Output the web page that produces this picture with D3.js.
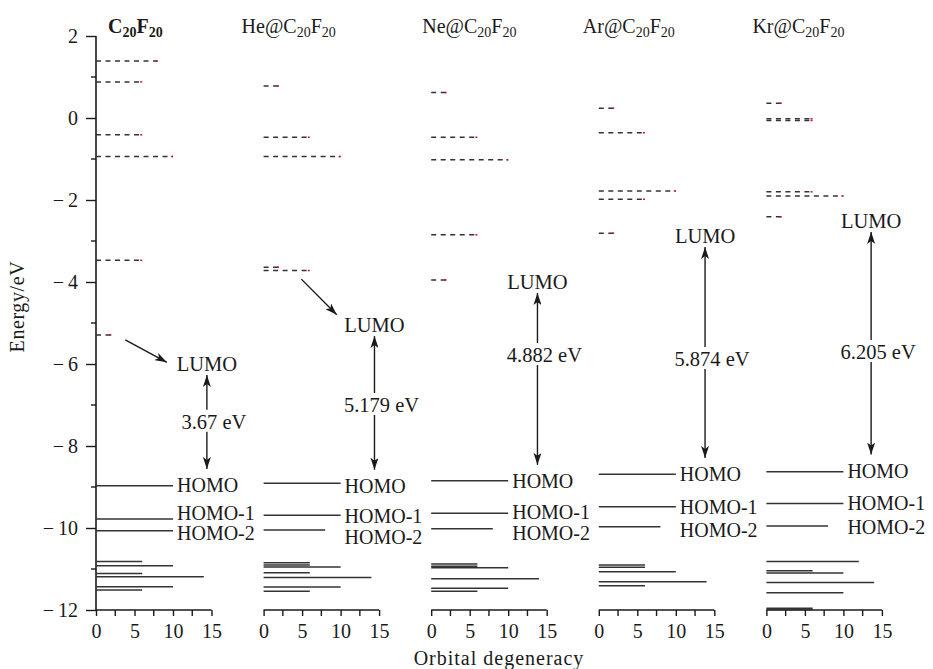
<!DOCTYPE html>
<html>
<head>
<meta charset="utf-8">
<script src="https://cdn.jsdelivr.net/npm/d3@7"></script>
<style>
    body { margin: 0; background: #fff; }
    text { font-family: "Liberation Serif", "DejaVu Serif", serif; fill: #1a1a1a; }
</style>
</head>
<body>
<svg id="chart"></svg>
<script>
// molecules (panel titles are prefix + C20F20)
const titlePrefix = ['', 'He@', 'Ne@', 'Ar@', 'Kr@']

// unoccupied levels (dashed): energy in eV and degeneracy
const virtualE = [
    [1.39, 0.88, -0.41, -0.94, -3.47, -5.29],
    [0.78, -0.47, -0.94, -3.64, -3.72],
    [0.62, -0.47, -1.02, -2.85, -3.95],
    [0.24, -0.36, -1.78, -1.98, -2.81],
    [0.36, -0.02, -0.06, -1.80, -1.90, -2.41]
]
const virtualDeg = [
    [8, 6, 6, 10, 6, 2],
    [2, 6, 10, 2, 6],
    [2, 6, 10, 6, 2],
    [2, 6, 10, 6, 2],
    [2, 6, 6, 6, 10, 2]
]

// occupied levels (solid)
const occE = [
    [-8.97, -9.78, -10.07, -10.82, -10.92, -11.11, -11.19, -11.43, -11.51],
    [-8.91, -9.69, -10.05, -10.85, -10.90, -10.95, -11.09, -11.21, -11.44, -11.54],
    [-8.85, -9.64, -10.02, -10.88, -10.93, -10.97, -11.24, -11.47, -11.54],
    [-8.69, -9.48, -9.97, -10.90, -10.96, -11.07, -11.31, -11.41],
    [-8.63, -9.40, -9.95, -10.82, -11.04, -11.10, -11.33, -11.58, -11.96, -11.99]
]
const occDeg = [
    [10, 10, 10, 6, 10, 6, 14, 10, 6],
    [10, 10, 8, 6, 6, 10, 6, 14, 10, 6],
    [10, 10, 8, 6, 6, 10, 14, 10, 6],
    [10, 10, 8, 6, 6, 10, 14, 6],
    [10, 10, 8, 12, 6, 10, 14, 10, 6, 6]
]

// annotations
const gapText = ['3.67 eV', '5.179 eV', '4.882 eV', '5.874 eV', '6.205 eV']
const gapX = [14.4, 14.4, 13.8, 13.8, 13.6]          // degeneracy units
const lumoLabelE = [-6.0, -5.05, -4.0, -2.88, -2.51]
const gapTextE = [-7.41, -7.0, -5.78, -5.88, -5.71]
const homoNames = ['HOMO', 'HOMO-1', 'HOMO-2']
const homoLabelE = [
    [-8.95, -9.63, -10.12],
    [-8.97, -9.70, -10.22],
    [-8.85, -9.62, -10.13],
    [-8.68, -9.48, -10.05],
    [-8.60, -9.40, -9.97]
]
const titleX = [1.56, -2.86, -1.17, -2.08, -1.82]
// arrows from the LUMO level to its label (only first two panels)
const lumoArrow = [
    {panel: 0, from: [3.8, -5.41], to: [9.2, -5.96]},
    {panel: 1, from: [4.9, -3.93], to: [9.5, -4.80]}
]

const yTicks = [2, 0, -2, -4, -6, -8, -10, -12]
const yMinor = [1, -1, -3, -5, -7, -9, -11]
const xTicks = [0, 5, 10, 15]
const xMinor = [2.5, 7.5, 12.5]

const W = 933, H = 669
const svg = d3.select('#chart').attr('width', W).attr('height', H)

const yScale = d3.scaleLinear().domain([-12, 2]).range([610, 36])
const panelX0 = d3.range(5).map(i => 96 + i * 167.6)
const xScale = d3.scaleLinear().domain([0, 15]).range([0, 115.5])

const defs = svg.append('defs')
defs.append('marker')
    .attr('id', 'head')
    .attr('viewBox', '0 0 12 8')
    .attr('refX', 12).attr('refY', 4)
    .attr('markerWidth', 12).attr('markerHeight', 8)
    .attr('markerUnits', 'userSpaceOnUse')
    .attr('orient', 'auto')
    .append('path')
    .attr('d', 'M0,0 L12,4 L0,8 L3,4 Z')
    .attr('fill', '#1a1a1a')

const minus = d => d < 0 ? '\u2212\u2009' + Math.abs(d) : d

// y axis (only on the first panel)
const yAxisG = svg.append('g')
    .attr('transform', `translate(${panelX0[0]},0)`)
    .call(d3.axisLeft(yScale).tickValues(yTicks).tickSize(10).tickPadding(8).tickFormat(minus))
yMinor.forEach(v => {
    yAxisG.append('line')
        .attr('x1', -5).attr('x2', 0)
        .attr('y1', yScale(v)).attr('y2', yScale(v))
        .attr('stroke', '#1a1a1a').attr('stroke-width', 1.4)
})
yAxisG.select('.domain').attr('stroke', '#1a1a1a').attr('stroke-width', 1.6)
    .attr('d', `M0,${yScale(-12)}V${yScale(2)}`)
yAxisG.selectAll('.tick line').attr('stroke', '#1a1a1a').attr('stroke-width', 1.4)
yAxisG.selectAll('.tick text')
    .style('font-family', '"Liberation Serif", serif')
    .style('font-size', '20px')
    .attr('fill', '#1a1a1a')

svg.append('text')
    .attr('transform', `translate(24,${yScale(-4.6)}) rotate(-90)`)
    .attr('text-anchor', 'middle')
    .style('font-size', '20px')
    .style('letter-spacing', '0.6px')
    .text('Energy/eV')

svg.append('text')
    .attr('x', 499).attr('y', 665)
    .attr('text-anchor', 'middle')
    .style('font-size', '20px')
    .style('letter-spacing', '1px')
    .text('Orbital degeneracy')

titlePrefix.forEach((pre, i) => {
    const g = svg.append('g').attr('transform', `translate(${panelX0[i]},0)`)

    // x axis
    const xa = g.append('g')
        .attr('transform', `translate(0,${yScale(-12)})`)
        .call(d3.axisBottom(xScale).tickValues(xTicks).tickSize(6).tickPadding(8))
    xa.select('.domain').attr('stroke', '#1a1a1a').attr('stroke-width', 1.5)
        .attr('d', `M0,0H${xScale(15)}`)
    xa.selectAll('.tick line').attr('stroke', '#1a1a1a').attr('stroke-width', 1.4)
    xa.selectAll('.tick text')
        .style('font-family', '"Liberation Serif", serif')
        .style('font-size', '20px')
        .attr('fill', '#1a1a1a')
    xMinor.forEach(v => {
        xa.append('line')
            .attr('x1', xScale(v)).attr('x2', xScale(v))
            .attr('y1', 0).attr('y2', 6)
            .attr('stroke', '#1a1a1a').attr('stroke-width', 1.4)
    })

    // title
    const t = g.append('text')
        .attr('x', xScale(titleX[i])).attr('y', 33)
        .style('font-size', '20px')
        .style('font-weight', i === 0 ? 'bold' : 'normal')
    t.append('tspan').text(pre + 'C')
    t.append('tspan').attr('dy', 4).style('font-size', '14px').text('20')
    t.append('tspan').attr('dy', -4).text('F')
    t.append('tspan').attr('dy', 4).style('font-size', '14px').text('20')

    // unoccupied levels
    const vData = virtualE[i].map((e, j) => ({e: e, d: virtualDeg[i][j]}))
    g.selectAll('.virt')
        .data(vData)
        .join('line')
            .attr('class', 'virt')
            .attr('x1', 0).attr('x2', d => xScale(d.d))
            .attr('y1', d => yScale(d.e)).attr('y2', d => yScale(d.e))
            .attr('stroke', '#333').attr('stroke-width', 1.5)
            .attr('stroke-dasharray', '5,4.5')
    g.selectAll('.virt-end')
        .data(vData)
        .join('line')
            .attr('class', 'virt-end')
            .attr('x1', d => xScale(d.d) - 2).attr('x2', d => xScale(d.d))
            .attr('y1', d => yScale(d.e)).attr('y2', d => yScale(d.e))
            .attr('stroke', '#d0102a').attr('stroke-width', 1.5)

    // occupied levels
    const oData = occE[i].map((e, j) => ({e: e, d: occDeg[i][j]}))
    g.selectAll('.occ')
        .data(oData)
        .join('line')
            .attr('class', 'occ')
            .attr('x1', 0).attr('x2', d => xScale(d.d))
            .attr('y1', d => yScale(d.e)).attr('y2', d => yScale(d.e))
            .attr('stroke', '#333').attr('stroke-width', 1.5)

    // HOMO labels
    g.selectAll('.homo')
        .data(homoNames)
        .join('text')
            .attr('class', 'homo')
            .attr('x', xScale(10) + 4)
            .attr('y', (d, j) => yScale(homoLabelE[i][j]))
            .attr('dy', '0.35em')
            .style('font-size', '20px')
            .text(d => d)

    // LUMO label and gap arrow
    const gx = xScale(gapX[i])
    g.append('text')
        .attr('x', gx).attr('y', yScale(lumoLabelE[i]))
        .attr('dy', '0.35em')
        .attr('text-anchor', 'middle')
        .style('font-size', '20.5px')
        .text('LUMO')
    g.append('text')
        .attr('x', gx + 7).attr('y', yScale(gapTextE[i]))
        .attr('dy', '0.35em')
        .attr('text-anchor', 'middle')
        .style('font-size', '20.5px')
        .text(gapText[i])
    g.append('line')
        .attr('x1', gx).attr('x2', gx)
        .attr('y1', yScale(gapTextE[i]) - 12).attr('y2', yScale(lumoLabelE[i]) + 11)
        .attr('stroke', '#1a1a1a').attr('stroke-width', 1.4)
        .attr('marker-end', 'url(#head)')
    g.append('line')
        .attr('x1', gx).attr('x2', gx)
        .attr('y1', yScale(gapTextE[i]) + 10).attr('y2', yScale(homoLabelE[i][0]) - 16)
        .attr('stroke', '#1a1a1a').attr('stroke-width', 1.4)
        .attr('marker-end', 'url(#head)')
})

// diagonal arrows to LUMO labels
lumoArrow.forEach(a => {
    const x0 = panelX0[a.panel]
    svg.append('line')
        .attr('x1', x0 + xScale(a.from[0])).attr('y1', yScale(a.from[1]))
        .attr('x2', x0 + xScale(a.to[0])).attr('y2', yScale(a.to[1]))
        .attr('stroke', '#1a1a1a').attr('stroke-width', 1.4)
        .attr('marker-end', 'url(#head)')
})
</script>
</body>
</html>
